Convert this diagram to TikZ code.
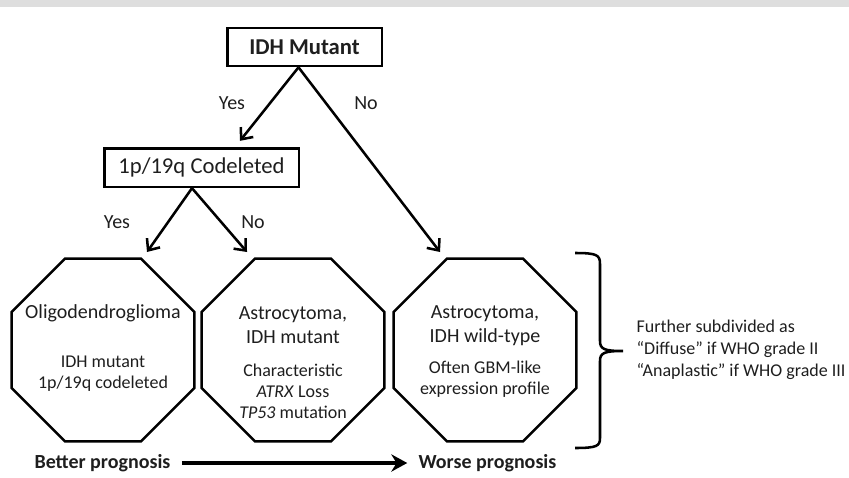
\documentclass[tikz,border=0pt]{standalone}
\usepackage{fontspec}
\setmainfont{Carlito}
\usetikzlibrary{shapes.geometric, arrows.meta, calc, positioning}
\definecolor{topband}{HTML}{DEDEDE}
\definecolor{inkgray}{HTML}{1E1E1E}
\tikzset{
  % riquadro di una domanda
  qbox/.style={draw=black, line width=2pt, inner sep=0pt, align=center,
    text=inkgray},
  % ottagono di una diagnosi
  octa/.style={draw=black, line width=1.9pt, regular polygon, regular polygon sides=8,
    minimum size=148.5pt, inner sep=0pt},
  % testi dentro gli ottagoni
  ttl/.style={align=center, text=inkgray, font=\fontsize{15}{18}\selectfont},
  dtl/.style={align=center, text=inkgray, font=\fontsize{13.5}{15.8}\selectfont},
  % etichette dei rami
  lbl/.style={text=inkgray, font=\fontsize{15}{18}\selectfont},
  % testo a lato della graffa
  side/.style={align=left, text=inkgray, font=\fontsize{13.5}{16.5}\selectfont},
  % prognosi
  prog/.style={text=inkgray, font=\bfseries\fontsize{15}{18}\selectfont},
  % frecce
  tree arrow/.style={-{Straight Barb[length=7pt, width=12pt]}, line width=1.9pt},
  prog arrow/.style={-{Stealth[length=12pt, width=13pt, inset=4pt]}, line width=2.6pt,
    shorten <=5pt, shorten >=5pt},
  brace line/.style={line width=1.9pt},
}
\begin{document}
\begin{tikzpicture}[x=0.75pt, y=-0.75pt]
  \useasboundingbox (0,0) rectangle (849,478);
  \fill[topband] (0,0) rectangle (849,7);
  % domande
  \node[qbox, font=\bfseries\fontsize{17}{20}\selectfont, minimum width=116pt,
    minimum height=28.5pt] (idh) at (304.5,47) {IDH Mutant};
  \node[qbox, font=\fontsize{17}{20}\selectfont, minimum width=146pt,
    minimum height=29pt] (codel) at (201.5,167.5) {1p/19q Codeleted};
  % diagnosi
  \node[octa] (oligo) at (103,350) {};
  \node[octa] (astromut) at (293,350) {};
  \node[octa] (astrowt) at (485,350) {};
  \node[ttl] (oligottl) at (103,313) {Oligodendroglioma};
  \node[dtl] (oligodtl) at (103,374) {IDH mutant\\1p/19q codeleted};
  \node[ttl] (mutttl) at (293,325) {Astrocytoma,\\IDH mutant};
  \node[dtl] (mutdtl) at (293,391) {Characteristic\\\textit{ATRX} Loss\\\textit{TP53} mutation};
  \node[ttl] (wtttl) at (485,326) {Astrocytoma,\\IDH wild-type};
  \node[dtl] (wtdtl) at (485,379) {Often GBM-like\\expression profile};
  % rami
  \draw[tree arrow] ($(idh.south)+(-6,0)$) -- ($(codel.north)+(38.5,-6)$);
  \draw[tree arrow] ($(idh.south)+(-6,0)$) -- ($(astrowt.center)+(-45,-98)$);
  \draw[tree arrow] ($(codel.south)+(-9.5,0)$) -- ($(oligo.center)+(44,-98)$);
  \draw[tree arrow] ($(codel.south)+(-9.5,0)$) -- ($(astromut.center)+(-46,-98)$);
  \node[lbl] (yesidh) at (232,103) {Yes};
  \node[lbl] (noidh) at (366,103) {No};
  \node[lbl] (yescodel) at (117,222) {Yes};
  \node[lbl] (nocodel) at (253,222) {No};
  % graffa e sottotipi
  \draw[brace line] (575,253) .. controls (597,253) and (600,255) .. (600,264)
    -- (600,341) .. controls (600,349) and (604,351) .. (623,351)
    .. controls (604,351) and (600,353) .. (600,361)
    -- (600,438) .. controls (600,446) and (597,448) .. (575,448);
  \node[side, anchor=west] (grades) at (632,350)
    {Further subdivided as\\“Diffuse” if WHO grade II\\“Anaplastic” if WHO grade III};
  % prognosi
  \node[prog] (better) at (102.5,463) {Better prognosis};
  \node[prog] (worse) at (487.5,463) {Worse prognosis};
  \draw[prog arrow] (better) -- (worse);
\end{tikzpicture}
\end{document}
